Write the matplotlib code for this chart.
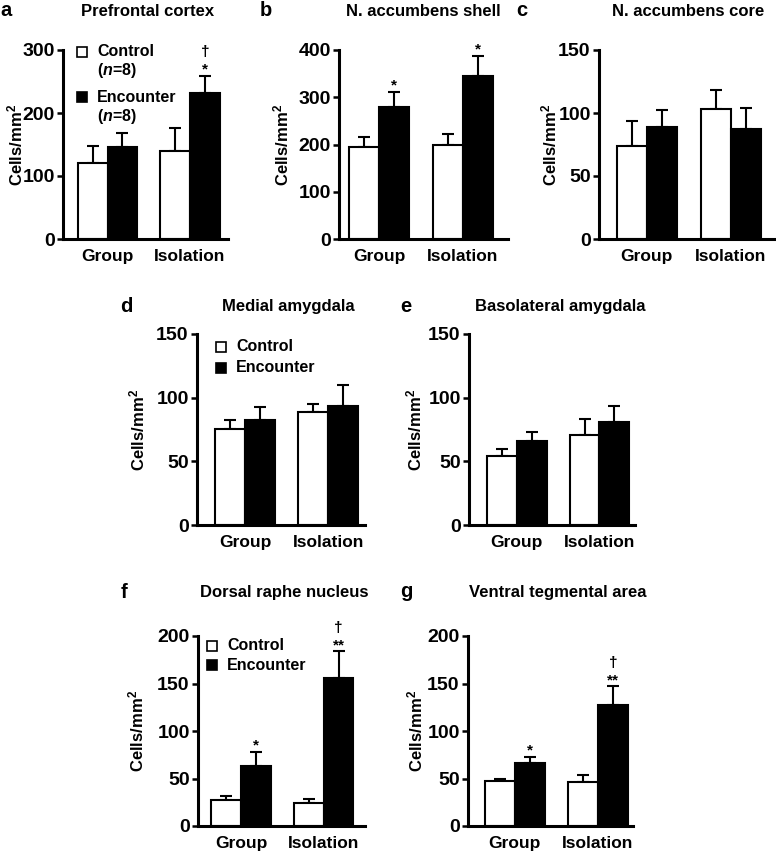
import matplotlib
matplotlib.use("Agg")
import matplotlib.pyplot as plt
from matplotlib.patches import Rectangle

plt.rcParams['font.family'] = ['Liberation Sans', 'DejaVu Sans']
plt.rcParams['font.weight'] = 'bold'
plt.rcParams['axes.labelweight'] = 'bold'
plt.rcParams['mathtext.fontset'] = 'custom'
plt.rcParams['mathtext.it'] = 'Liberation Sans:italic:bold'
plt.rcParams['mathtext.rm'] = 'Liberation Sans:bold'

groups = ["Group", "Isolation"]

panels = ["a", "b", "c", "d", "e", "f", "g"]
titles = ["Prefrontal cortex", "N. accumbens shell", "N. accumbens core",
          "Medial amygdala", "Basolateral amygdala",
          "Dorsal raphe nucleus", "Ventral tegmental area"]
ymax = [300, 400, 150, 150, 150, 200, 200]
ystep = [100, 100, 50, 50, 50, 50, 50]

ctrl_mean = [[120, 139], [194, 199], [74, 103.5], [75.5, 89], [54, 71], [27, 24], [47.5, 46.5]]
ctrl_err = [[27, 37], [21, 23], [20, 15], [7, 6], [6, 12], [5, 4.5], [2, 7]]
enc_mean = [[146, 232], [280, 344], [89, 87], [82.6, 93.6], [65.6, 81], [63, 156], [66, 127]]
enc_err = [[22, 27], [32, 44], [13, 17], [10, 16], [7.3, 12.3], [15, 28], [7, 20]]

stars = [["", "*"], ["*", "*"], ["", ""], ["", ""], ["", ""], ["*", "**"], ["*", "**"]]
daggers = [["", "\u2020"], ["", ""], ["", ""], ["", ""], ["", ""], ["", "\u2020"], ["", "\u2020"]]

# layout in pixels: left, right, top, bottom, xlim, ylabel centre x
W, H = 776, 852
boxes = {
    "a": (63, 228, 50, 239, (-0.54, 1.46), 17),
    "b": (339, 508, 50, 239, (-0.48, 1.54), 283),
    "c": (599, 776, 50, 239, (-0.57, 1.54), 551),
    "d": (197, 365, 334, 525, (-0.58, 1.44), 139),
    "e": (469, 635, 334, 525, (-0.58, 1.43), 416),
    "f": (198, 365, 636, 826, (-0.52, 1.50), 138),
    "g": (468, 633, 636, 826, (-0.56, 1.42), 417),
}
title_pos = {"a": (148, 12), "b": (423, 12), "c": (688, 12), "d": (288, 307),
             "e": (560, 307), "f": (284, 593), "g": (558, 593)}
letter_pos = {"a": (0, 16), "b": (260, 16), "c": (516, 16), "d": (120, 312),
              "e": (400, 312), "f": (121, 598), "g": (400, 597)}

fig = plt.figure(figsize=(W / 100, H / 100), dpi=100)


def fx(x):
    return x / W


def fy(y):
    return 1 - y / H


width = 0.36
for i, p in enumerate(panels):
    l, r, t, b, xl, labx = boxes[p]
    ax = fig.add_axes([fx(l), fy(b), (r - l) / W, (b - t) / H])
    xs = [0, 1]
    xc = [x - width / 2 for x in xs]
    xe = [x + width / 2 for x in xs]
    ax.bar(xc, ctrl_mean[i], width, color="white", edgecolor="black", linewidth=1.5, zorder=2)
    ax.bar(xe, enc_mean[i], width, color="black", edgecolor="black", linewidth=1.5, zorder=2)
    ax.errorbar(xc, ctrl_mean[i], yerr=[[0, 0], ctrl_err[i]], fmt="none", ecolor="black",
                elinewidth=1.5, capsize=4, capthick=1.5, zorder=1)
    ax.errorbar(xe, enc_mean[i], yerr=[[0, 0], enc_err[i]], fmt="none", ecolor="black",
                elinewidth=1.5, capsize=4, capthick=1.5, zorder=1)
    for j in range(2):
        top = enc_mean[i][j] + enc_err[i][j]
        if stars[i][j]:
            ax.annotate(stars[i][j], (xe[j], top), xytext=(0, 1.5), textcoords="offset points",
                        ha="center", va="baseline", fontsize=11, annotation_clip=False)
        if daggers[i][j]:
            ax.annotate(daggers[i][j], (xe[j], top), xytext=(0, 14), textcoords="offset points",
                        ha="center", va="baseline", fontsize=11, annotation_clip=False)
    ax.set_xlim(*xl)
    ax.set_ylim(0, ymax[i])
    ax.set_yticks(range(0, ymax[i] + 1, ystep[i]))
    ax.set_xticks(xs)
    ax.set_xticklabels(groups)
    ax.spines[["top", "right"]].set_visible(False)
    ax.spines[["left", "bottom"]].set_linewidth(2.2)
    ax.spines["left"].set_capstyle("projecting")
    ax.tick_params(axis="y", direction="out", length=4, width=1.8, labelsize=14, pad=2)
    ax.tick_params(axis="x", length=0, labelsize=12.5, pad=7)
    ax.set_ylabel("Cells/mm$^{2}$", fontsize=12)
    ax.yaxis.set_label_coords((labx + 8 - l) / (r - l), 0.5)
    ax.patch.set_alpha(0)
    tx, ty = title_pos[p]
    fig.text(fx(tx), fy(ty), titles[i], ha="center", va="center", fontsize=12)
    lx, ly = letter_pos[p]
    fig.text(fx(lx), fy(ly), p, ha="left", va="baseline", fontsize=14.5)


def legend_item(x, y, filled, lines):
    fig.patches.append(Rectangle((fx(x), fy(y + 5)), 10 / W, 10 / H, transform=fig.transFigure,
                                 facecolor="black" if filled else "white", edgecolor="black",
                                 linewidth=1.2))
    for k, s in enumerate(lines):
        fig.text(fx(x + 20), fy(y + 19 * k), s, ha="left", va="center", fontsize=11.5)


nlab = "($\\mathit{n}$=8)"
legend_item(77, 52, False, ["Control", nlab])
legend_item(77, 97, True, ["Encounter", nlab])
legend_item(216, 347, False, ["Control"])
legend_item(216, 368, True, ["Encounter"])
legend_item(207, 646, False, ["Control"])
legend_item(207, 665, True, ["Encounter"])

fig.savefig("out.png", dpi=100)
